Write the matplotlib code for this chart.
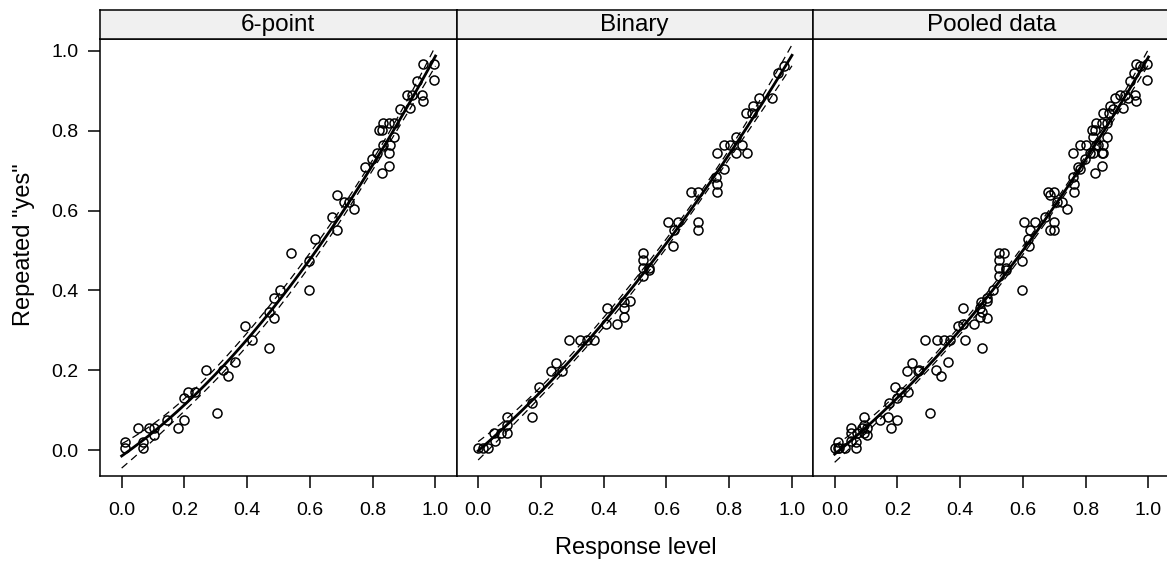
import numpy as np
import matplotlib
matplotlib.use('Agg')
import matplotlib.pyplot as plt

plt.rcParams['font.family'] = ['Liberation Sans', 'DejaVu Sans']

panel_titles = ['6-point', 'Binary', 'Pooled data']
tick_values = [0.0, 0.2, 0.4, 0.6, 0.8, 1.0]

# 6-point scale: response level vs share of repeated "yes"
six_x = [0.012, 0.012, 0.053, 0.067, 0.067, 0.088, 0.104, 0.104, 0.144, 0.179,
         0.199, 0.199, 0.213, 0.234, 0.269, 0.303, 0.324, 0.338, 0.360, 0.394,
         0.415, 0.470, 0.468, 0.484, 0.484, 0.505, 0.596, 0.539, 0.596, 0.617,
         0.670, 0.686, 0.686, 0.707, 0.723, 0.741, 0.777, 0.798, 0.814, 0.830,
         0.851, 0.851, 0.833, 0.854, 0.867, 0.819, 0.833, 0.851, 0.867, 0.830,
         0.888, 0.920, 0.910, 0.926, 0.961, 0.958, 0.942, 0.961, 0.995, 0.995]
six_y = [0.021, 0.004, 0.055, 0.021, 0.004, 0.055, 0.055, 0.038, 0.075, 0.055,
         0.075, 0.130, 0.146, 0.146, 0.200, 0.094, 0.200, 0.185, 0.220, 0.311,
         0.276, 0.256, 0.347, 0.332, 0.382, 0.401, 0.401, 0.493, 0.474, 0.529,
         0.583, 0.551, 0.639, 0.621, 0.621, 0.603, 0.710, 0.729, 0.745, 0.695,
         0.712, 0.745, 0.764, 0.764, 0.785, 0.802, 0.820, 0.820, 0.820, 0.802,
         0.854, 0.856, 0.890, 0.890, 0.875, 0.890, 0.925, 0.967, 0.967, 0.927]

# binary scale
bin_x = [0.000, 0.014, 0.032, 0.051, 0.053, 0.072, 0.092, 0.092, 0.092, 0.171,
         0.173, 0.193, 0.232, 0.248, 0.266, 0.288, 0.326, 0.347, 0.368, 0.408,
         0.410, 0.443, 0.464, 0.464, 0.466, 0.484, 0.524, 0.546, 0.524, 0.524,
         0.524, 0.546, 0.620, 0.623, 0.604, 0.638, 0.700, 0.700, 0.679, 0.700,
         0.762, 0.762, 0.759, 0.783, 0.761, 0.783, 0.801, 0.822, 0.822, 0.840,
         0.856, 0.854, 0.876, 0.873, 0.894, 0.936, 0.955, 0.974]
bin_y = [0.004, 0.004, 0.004, 0.042, 0.023, 0.042, 0.084, 0.063, 0.042, 0.084,
         0.117, 0.157, 0.198, 0.217, 0.198, 0.276, 0.276, 0.276, 0.276, 0.315,
         0.355, 0.315, 0.334, 0.355, 0.372, 0.373, 0.436, 0.451, 0.455, 0.476,
         0.495, 0.455, 0.512, 0.551, 0.572, 0.572, 0.572, 0.551, 0.646, 0.646,
         0.646, 0.666, 0.685, 0.704, 0.745, 0.764, 0.764, 0.785, 0.745, 0.764,
         0.745, 0.844, 0.862, 0.844, 0.881, 0.883, 0.944, 0.963]


def quad_fit(x, y):
    # quadratic regression with 95% confidence band of the mean
    x = np.asarray(x)
    y = np.asarray(y)
    X = np.column_stack([np.ones_like(x), x, x ** 2])
    beta, _, _, _ = np.linalg.lstsq(X, y, rcond=None)
    resid = y - X @ beta
    s2 = resid @ resid / (len(x) - 3)
    cov = s2 * np.linalg.inv(X.T @ X)
    xs = np.linspace(0, 1, 200)
    Xs = np.column_stack([np.ones_like(xs), xs, xs ** 2])
    fit = Xs @ beta
    se = np.sqrt(np.einsum('ij,jk,ik->i', Xs, cov, Xs))
    return xs, fit, fit - 1.99 * se, fit + 1.99 * se


def draw_panel(ax, x, y, title):
    xs, fit, lo, hi = quad_fit(x, y)
    ax.plot(x, y, 'o', mfc='none', mec='black', ms=6.5, mew=1.1, zorder=2)
    ax.plot(xs, fit, color='black', lw=2.0, zorder=3)
    ax.plot(xs, lo, color='black', lw=0.9, ls=(0, (6, 4)), zorder=3)
    ax.plot(xs, hi, color='black', lw=0.9, ls=(0, (6, 4)), zorder=3)
    ax.set_xlim(-0.069, 1.067)
    ax.set_ylim(-0.065, 1.03)
    ax.set_xticks(tick_values)
    ax.set_xticklabels(['%.1f' % v for v in tick_values])
    ax.tick_params(direction='out', length=8.5, width=1.1, labelsize=14,
                   colors='black')
    ax.tick_params(axis='x', pad=10)
    ax.tick_params(axis='y', pad=7)
    for sp in ax.spines.values():
        sp.set_linewidth(1.1)

    # strip on top of panel
    strip = ax.inset_axes([0, 1.0, 1, 0.066])
    strip.set_facecolor('#f0f0f0')
    strip.set_xticks([])
    strip.set_yticks([])
    for sp in strip.spines.values():
        sp.set_linewidth(1.1)
    strip.text(0.5, 0.47, title, ha='center', va='center', fontsize=17.5)


def main():
    fig = plt.figure(figsize=(11.67, 5.63), dpi=100)
    pool_x = six_x + bin_x
    pool_y = six_y + bin_y
    data = [(six_x, six_y), (bin_x, bin_y), (pool_x, pool_y)]

    left = 100 / 1167
    width = 356.5 / 1167
    bottom = (563 - 476) / 563
    height = (476 - 39) / 563
    axes = []
    for i in range(3):
        ax = fig.add_axes([left + i * width, bottom, width, height])
        draw_panel(ax, data[i][0], data[i][1], panel_titles[i])
        axes.append(ax)

    axes[0].set_yticks(tick_values)
    axes[0].set_yticklabels(['%.1f' % v for v in tick_values])
    for ax in axes[1:]:
        ax.set_yticks([])

    fig.text(636 / 1167, 1 - 548 / 563, 'Response level', ha='center',
             va='center', fontsize=17)
    fig.text(24 / 1167, 1 - 245 / 563, 'Repeated "yes"', ha='center',
             va='center', rotation=90, fontsize=17)

    fig.savefig('out.png', dpi=100)


if __name__ == '__main__':
    main()
